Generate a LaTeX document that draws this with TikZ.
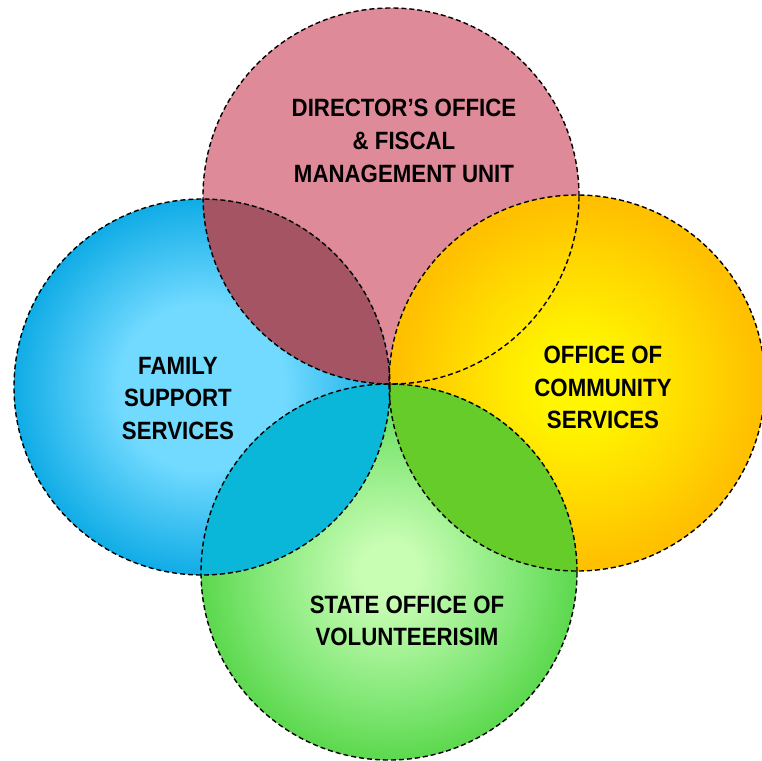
\documentclass[tikz,border=0pt]{standalone}
\usepackage{fontspec}
\newfontfamily\lbl{Liberation Sans}[FakeStretch=0.89]
\definecolor{pinkc}{HTML}{DE8A98}
\definecolor{bluein}{HTML}{72DAFF}
\definecolor{blueout}{HTML}{10ACE6}
\definecolor{yelin}{HTML}{FFF600}
\definecolor{yelmid}{HTML}{FFD800}
\definecolor{yelout}{HTML}{FFC000}
\definecolor{grnin}{HTML}{C8FDB4}
\definecolor{grnmid}{HTML}{84E878}
\definecolor{grnout}{HTML}{5CD84E}
\definecolor{mauve}{HTML}{A45462}
\definecolor{teal}{HTML}{0BB7D8}
\definecolor{lime}{HTML}{66CC2A}
\pgfdeclareradialshading{blueshade}{\pgfpoint{0bp}{0bp}}{color(0bp)=(bluein); color(11bp)=(bluein); color(25bp)=(blueout); color(50bp)=(blueout)}
\pgfdeclareradialshading{yelshade}{\pgfpoint{0bp}{0bp}}{color(0bp)=(yelin); color(5bp)=(yelin); color(16bp)=(yelmid); color(24bp)=(yelout); color(50bp)=(yelout)}
\pgfdeclareradialshading{grnshade}{\pgfpoint{0bp}{0bp}}{color(0bp)=(grnin); color(4bp)=(grnin); color(17bp)=(grnmid); color(25bp)=(grnout); color(50bp)=(grnout)}
\tikzset{
  venn/.style={circle, minimum size=376pt, inner sep=0pt, outer sep=0pt},
  outline/.style={venn, draw=black, line width=1.4pt, dash pattern=on 5pt off 3pt},
  lab/.style={align=center, font=\lbl\bfseries\fontsize{25}{32.7}\selectfont, text=black, inner sep=0pt}
}
\begin{document}
\begin{tikzpicture}[x=1pt,y=-1pt]
\useasboundingbox (0,0) rectangle (762,760);
% circles
\node[venn, fill=pinkc] (dir) at (391,196) {};
\node[venn, shading=blueshade] (fam) at (202,387) {};
\node[venn, shading=yelshade] (com) at (577,383) {};
\node[venn, shading=grnshade] (sta) at (389,572) {};
% lenses
\begin{scope}
  \clip (dir.center) circle (188pt);
  \fill[mauve] (fam.center) circle (188pt);
\end{scope}
\begin{scope}
  \clip (fam.center) circle (188pt);
  \fill[teal] (sta.center) circle (188pt);
\end{scope}
\begin{scope}
  \clip (com.center) circle (188pt);
  \fill[lime] (sta.center) circle (188pt);
\end{scope}
% outlines
\node[outline] (dirO) at (dir.center) {};
\node[outline] (famO) at (fam.center) {};
\node[outline] (comO) at (com.center) {};
\node[outline] (staO) at (sta.center) {};
% labels
\node[lab] (tdir) at (404,141) {DIRECTOR’S OFFICE\\\& FISCAL\\MANAGEMENT UNIT};
\node[lab] (tfam) at (178,398.5) {FAMILY\\SUPPORT\\SERVICES};
\node[lab] (tcom) at (603,387.5) {OFFICE OF\\COMMUNITY\\SERVICES};
\node[lab] (tsta) at (407,621) {STATE OFFICE OF\\VOLUNTEERISIM};
\end{tikzpicture}
\end{document}
